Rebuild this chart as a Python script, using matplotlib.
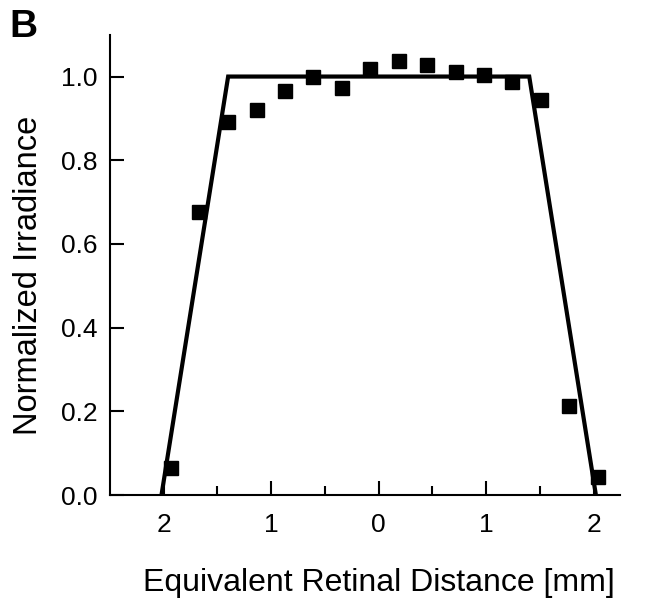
import matplotlib
matplotlib.use("Agg")
import matplotlib.pyplot as plt
from matplotlib.ticker import FixedLocator

plt.rcParams['font.family'] = ['Liberation Sans', 'DejaVu Sans']

# measured irradiance (squares)
dist_mm = [-1.93, -1.67, -1.40, -1.135, -0.87, -0.61, -0.34, -0.08,
           0.19, 0.45, 0.72, 0.98, 1.24, 1.51, 1.77, 2.04]
irradiance = [0.065, 0.677, 0.891, 0.919, 0.966, 0.998, 0.973, 1.018,
              1.036, 1.028, 1.010, 1.003, 0.988, 0.944, 0.212, 0.044]

# trapezoid fit
fit_x = [-2.02, -1.40, 1.40, 2.02]
fit_y = [0.0, 1.0, 1.0, 0.0]

tick_pos = [-2, -1, 0, 1, 2]
tick_lab = ['2', '1', '0', '1', '2']
minor_pos = [-1.5, -0.5, 0.5, 1.5]
y_ticks = [0.0, 0.2, 0.4, 0.6, 0.8, 1.0]

fig = plt.figure(figsize=(6.5, 5.98), dpi=100)
ax = fig.add_axes([0.169, 0.172, 0.785, 0.770])

ax.plot(fit_x, fit_y, color='black', lw=3, solid_joinstyle='miter', zorder=2)
ax.plot(dist_mm, irradiance, 's', color='black', ms=10, zorder=3)

ax.set_xlim(-2.5, 2.245)
ax.set_ylim(0, 1.1)

ax.spines['top'].set_visible(False)
ax.spines['right'].set_visible(False)
for s in ['left', 'bottom']:
    ax.spines[s].set_linewidth(1.5)

ax.set_xticks(tick_pos)
ax.set_xticklabels(tick_lab)
ax.xaxis.set_minor_locator(FixedLocator(minor_pos))
ax.set_yticks(y_ticks)
ax.set_yticklabels([f"{v:.1f}" for v in y_ticks])

ax.tick_params(axis='x', which='major', direction='in', length=10, width=1.5,
               labelsize=19, pad=13)
ax.tick_params(axis='x', which='minor', direction='in', length=6.5, width=1.5)
ax.tick_params(axis='y', which='major', direction='in', length=10, width=1.5,
               labelsize=19, pad=9)

ax.set_xlabel('Equivalent Retinal Distance [mm]', fontsize=23, labelpad=22)
ax.set_ylabel('Normalized Irradiance', fontsize=23.5, labelpad=12)
# labels sit centred on 0 mm / slightly low, as in the original
ax.xaxis.label.set_x(0.527)
ax.yaxis.label.set_y(0.478)

fig.text(0.015, 0.985, 'B', fontsize=28, fontweight='bold', va='top', ha='left')

fig.savefig('out.png', dpi=100)
